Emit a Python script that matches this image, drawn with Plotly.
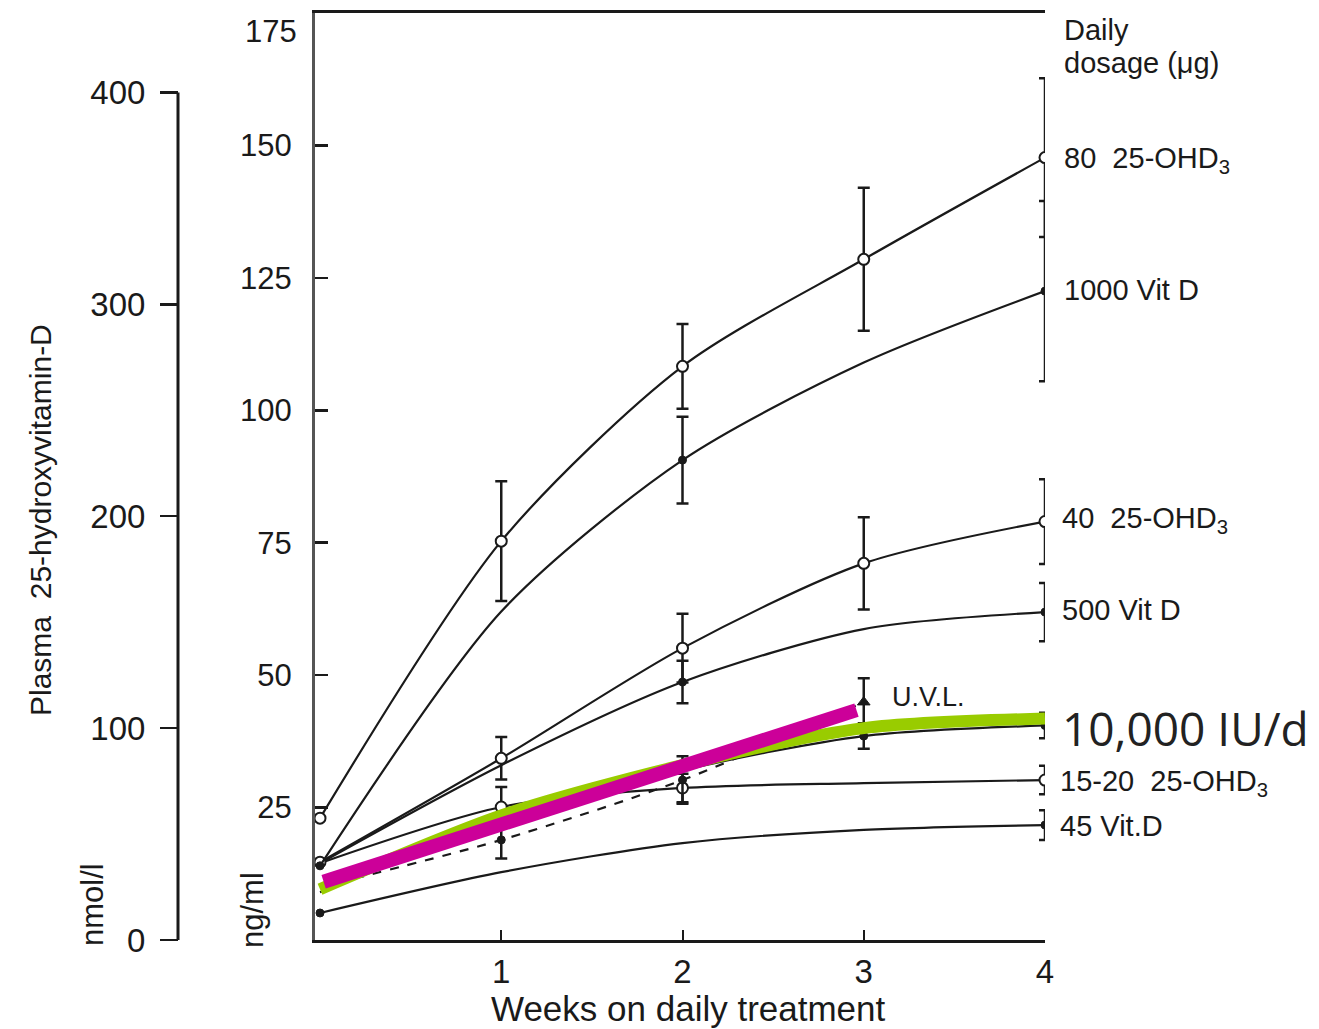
import plotly.graph_objects as go

W, H = 1319, 1029

# ---------------- data (plasma 25-OHD, ng/ml) ----------------
weeks = [0, 1, 2, 3, 4]

ohd80 = [23.0, 75.3, 108.3, 128.5, 147.7]
ohd80_err = [None, 11.3, 8.0, 13.5, 15.0]
ohd80_mk = [0, 1, 2, 3, 4]

vitd1000 = [14.0, 62.0, 90.6, 109.0, 122.5]
vitd1000_err = [None, None, 8.2, None, 17.0]
vitd1000_mk = [0, 2, 4]

ohd40 = [14.7, 34.3, 55.1, 71.1, 79.0]
ohd40_err = [None, 4.0, 6.5, 8.7, 8.0]
ohd40_mk = [0, 1, 2, 3, 4]

vitd500 = [14.5, 33.0, 48.7, 58.7, 61.9]
vitd500_err = [None, None, 4.0, None, 5.5]
vitd500_mk = [0, 2, 4]

uvl = [10.0, 18.9, 30.2, 44.9]
uvl_err = [None, 3.5, 4.5, 4.5]
uvl_mk = [1, 2]
uvl_tri = [3]

vitd250 = [9.0, 22.0, 32.0, 38.5, 40.5]
vitd250_err = [None, None, None, 2.4, 2.4]
vitd250_mk = [3, 4]

ohd15 = [14.5, 25.1, 28.7, 29.6, 30.2]
ohd15_err = [None, 3.8, 2.7, None, 2.7]
ohd15_mk = [1, 2, 4]

vitd45 = [5.1, 12.8, 18.3, 20.8, 21.7]
vitd45_err = [None, None, None, None, 2.8]
vitd45_mk = [0, 4]

green_x = [0, 1, 2, 3, 4]
green = [9.6, 23.5, 33.0, 40.0, 41.8]
magenta_x = [0.02, 2.96]
magenta = [11.0, 43.4]

ng_ticks = [25, 50, 75, 100, 125, 150]
ng_top = 175
nmol_ticks = [0, 100, 200, 300, 400]
week_ticks = [1, 2, 3, 4]
NMOL_PER_NG = 2.5

# ---------------- helpers ----------------
def px(x):
    return x / W

def py(y):
    return 1 - y / H

FONT = "Liberation Sans, Arial, sans-serif"
INK = "#1a1a1a"

fig = go.Figure()

OPEN = dict(symbol="circle", size=11, color="white", line=dict(color=INK, width=2))
FILLED = dict(symbol="circle", size=8, color=INK, line=dict(color=INK, width=1))
TRI = dict(symbol="triangle-up", size=11, color=INK, line=dict(color=INK, width=1))


def add_series(vals, errs, mk_idx, marker, dash="solid", tri_idx=None):
    xs = weeks[:len(vals)]
    fig.add_trace(go.Scatter(x=xs, y=vals, mode="lines",
                             line=dict(color=INK, width=2.2, shape="spline", smoothing=0.8, dash=dash),
                             hoverinfo="skip", showlegend=False))
    with_err = [i for i in mk_idx if errs[i] is not None]
    no_err = [i for i in mk_idx if errs[i] is None]
    if with_err:
        fig.add_trace(go.Scatter(x=[xs[i] for i in with_err], y=[vals[i] for i in with_err],
                                 mode="markers", marker=marker,
                                 error_y=dict(type="data", array=[errs[i] for i in with_err],
                                              color=INK, thickness=2.5, width=6),
                                 hoverinfo="skip", showlegend=False))
    if no_err:
        fig.add_trace(go.Scatter(x=[xs[i] for i in no_err], y=[vals[i] for i in no_err],
                                 mode="markers", marker=marker, hoverinfo="skip", showlegend=False))
    if tri_idx:
        fig.add_trace(go.Scatter(x=[xs[i] for i in tri_idx], y=[vals[i] for i in tri_idx],
                                 mode="markers", marker=TRI,
                                 error_y=dict(type="data", array=[errs[i] for i in tri_idx],
                                              color=INK, thickness=2.5, width=6),
                                 hoverinfo="skip", showlegend=False))


add_series(vitd45, vitd45_err, vitd45_mk, FILLED)
add_series(vitd250, vitd250_err, vitd250_mk, FILLED)
add_series(ohd15, ohd15_err, ohd15_mk, OPEN)
add_series(uvl, uvl_err, uvl_mk, FILLED, dash="dash", tri_idx=uvl_tri)
add_series(vitd500, vitd500_err, vitd500_mk, FILLED)
add_series(ohd40, ohd40_err, ohd40_mk, OPEN)
add_series(vitd1000, vitd1000_err, vitd1000_mk, FILLED)
add_series(ohd80, ohd80_err, ohd80_mk, OPEN)

# overlay lines
fig.add_trace(go.Scatter(x=green_x, y=green, mode="lines",
                         line=dict(color="#99CC00", width=12, shape="spline", smoothing=0.8),
                         hoverinfo="skip", showlegend=False))
fig.add_trace(go.Scatter(x=magenta_x, y=magenta, mode="lines",
                         line=dict(color="#CC0099", width=14),
                         hoverinfo="skip", showlegend=False))

# invisible trace carrying the nmol/l axis
fig.add_trace(go.Scatter(x=[0], y=[0], yaxis="y2", mode="markers",
                         marker=dict(opacity=0), hoverinfo="skip", showlegend=False))

ydom = [py(940), py(13)]
yr = [0, ng_top]

fig.update_layout(
    width=W, height=H, autosize=False,
    margin=dict(l=0, r=0, t=0, b=0, autoexpand=False),
    paper_bgcolor="white", plot_bgcolor="white",
    showlegend=False, hovermode=False,
    xaxis=dict(domain=[px(315), px(1045)], range=[-5 / 181.25, 4.0],
               tickvals=week_ticks, ticktext=[str(v) for v in week_ticks],
               ticks="inside", ticklen=10, tickwidth=2, tickcolor=INK,
               showline=True, linewidth=3, linecolor=INK, mirror=True,
               showgrid=False, zeroline=False, ticklabelstandoff=0,
               automargin=False,
               tickfont=dict(family=FONT, size=33, color=INK)),
    yaxis=dict(domain=ydom, range=yr, tickvals=ng_ticks,
               ticks="inside", ticklen=13, tickwidth=2.5, tickcolor=INK,
               showline=True, linewidth=3, linecolor="#555",
               showgrid=False, zeroline=False, ticklabelstandoff=14,
               automargin=False,
               tickfont=dict(family=FONT, size=31, color=INK)),
    yaxis2=dict(overlaying="y", range=[yr[0] * NMOL_PER_NG, yr[1] * NMOL_PER_NG],
                tickvals=nmol_ticks,
                anchor="free", position=px(178), side="left",
                ticks="outside", ticklen=18, tickwidth=2.5, tickcolor=INK,
                showline=False, showgrid=False, zeroline=False, ticklabelstandoff=8,
                automargin=False,
                tickfont=dict(family=FONT, size=33, color=INK)),
)

# axis line of the nmol/l scale, spanning 0..400 only
fig.add_shape(type="line", xref="paper", yref="y2",
              x0=px(178), x1=px(178), y0=nmol_ticks[0], y1=nmol_ticks[-1],
              line=dict(color=INK, width=3))

ann = []

def label(text, x, y, size=29, family=FONT, angle=0, xanchor="left", color=INK):
    ann.append(dict(text=text, x=px(x), y=py(y), xref="paper", yref="paper",
                    xanchor=xanchor, yanchor="middle", showarrow=False,
                    textangle=angle, font=dict(family=family, size=size, color=color)))

label(str(ng_top), 299, 31, size=31, xanchor="right")
label("Weeks on daily treatment", 688, 1008, size=35, xanchor="center")
label("Plasma  25-hydroxyvitamin-D", 40, 520, size=30, angle=-90, xanchor="center")
label("nmol/l", 92, 905, size=31, angle=-90, xanchor="center")
label("ng/ml", 252, 910, size=31, angle=-90, xanchor="center")

label("Daily", 1062, 30)
label("dosage (μg)", 1062, 63)
label("80  25-OHD<sub>3</sub>", 1062, 160)
label("1000 Vit D", 1062, 290)
label("40  25-OHD<sub>3</sub>", 1060, 520)
label("500 Vit D", 1060, 610)
label("10,000 IU/d", 1060, 728, size=46, family="Open Sans, Noto Sans, sans-serif", color="#222")
label("15-20  25-OHD<sub>3</sub>", 1058, 783)
label("45 Vit.D", 1058, 826)
label("U.V.L.", 890, 697, size=27)

fig.update_layout(annotations=ann)

fig.write_html("out.html",
               config={"displayModeBar": False, "staticPlot": True},
               post_script="document.body.style.margin='0';document.body.style.overflow='hidden';")
